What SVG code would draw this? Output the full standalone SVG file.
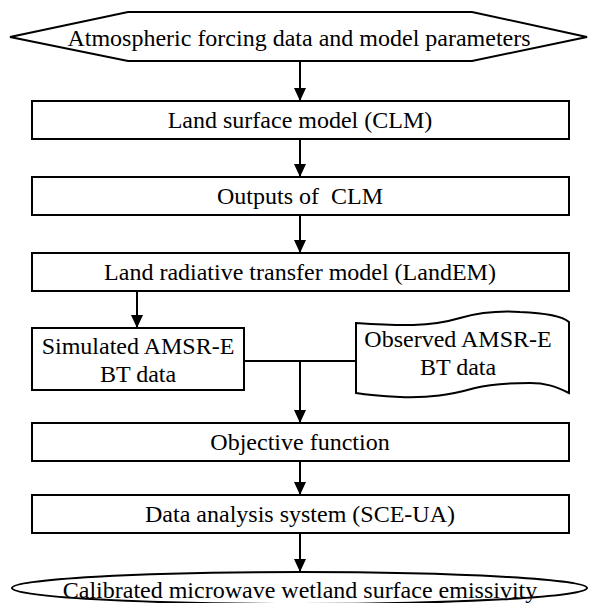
<svg xmlns="http://www.w3.org/2000/svg" width="589" height="603" viewBox="0 0 589 603">
<style>
.s{fill:#fff;stroke:#000;stroke-width:2}
.t{font-family:"Liberation Serif","Times New Roman",serif;font-size:24px;fill:#000;text-anchor:middle;white-space:pre}
.c{fill:none;stroke:#000;stroke-width:2}
</style>
<defs>
<marker id="ah" viewBox="0 0 12 13" refX="12" refY="6" markerWidth="12" markerHeight="13" markerUnits="userSpaceOnUse" orient="auto">
<path d="M0,0 L13,6 L0,12 Z" fill="#000"/>
</marker>
</defs>
<rect width="589" height="603" fill="#fff"/>
<g id="connectors">
<line class="c" x1="300" y1="61" x2="300" y2="100" marker-end="url(#ah)"/>
<line class="c" x1="300" y1="139" x2="300" y2="176" marker-end="url(#ah)"/>
<line class="c" x1="300" y1="215" x2="300" y2="252" marker-end="url(#ah)"/>
<line class="c" x1="137" y1="291" x2="137" y2="327" marker-end="url(#ah)"/>
<line class="c" x1="244" y1="361" x2="356" y2="361"/>
<line class="c" x1="300" y1="361" x2="300" y2="422" marker-end="url(#ah)"/>
<line class="c" x1="300" y1="461" x2="300" y2="494" marker-end="url(#ah)"/>
<line class="c" x1="300" y1="533" x2="300" y2="571" marker-end="url(#ah)"/>
</g>
<g id="input">
<polygon class="s" points="10,37 128,12 472,12 587,37 472,61 128,61"/>
<text class="t" x="299" y="46">Atmospheric forcing data and model parameters</text>
</g>
<g id="clm">
<rect class="s" x="32" y="101" width="537" height="38"/>
<text class="t" x="300" y="128">Land surface model (CLM)</text>
</g>
<g id="outputs">
<rect class="s" x="32" y="177" width="537" height="38"/>
<text class="t" x="300" y="204" xml:space="preserve">Outputs of  CLM</text>
</g>
<g id="landem">
<rect class="s" x="32" y="253" width="537" height="38"/>
<text class="t" x="300" y="280">Land radiative transfer model (LandEM)</text>
</g>
<g id="simulated">
<rect class="s" x="32" y="328" width="212" height="62"/>
<text class="t" x="138" y="354">Simulated AMSR-E</text>
<text class="t" x="138" y="382">BT data</text>
</g>
<g id="observed">
<path class="s" d="M356,323 C400,326 430,327 460,318 C485,311 505,311 520,312 C545,313 562,316 569,322 L569,393 C555,386 545,383 530,383 C505,383 490,384 475,388 C450,395 430,398 400,397 C380,396 368,395 356,393 Z"/>
<text class="t" x="458" y="347">Observed AMSR-E</text>
<text class="t" x="458" y="375">BT data</text>
</g>
<g id="objective">
<rect class="s" x="32" y="423" width="537" height="38"/>
<text class="t" x="300" y="450">Objective function</text>
</g>
<g id="sceua">
<rect class="s" x="32" y="495" width="537" height="38"/>
<text class="t" x="300" y="522">Data analysis system (SCE-UA)</text>
</g>
<g id="output">
<ellipse class="s" cx="299.5" cy="588" rx="287.5" ry="16"/>
<text class="t" x="300" y="598">Calibrated microwave wetland surface emissivity</text>
</g>
</svg>
